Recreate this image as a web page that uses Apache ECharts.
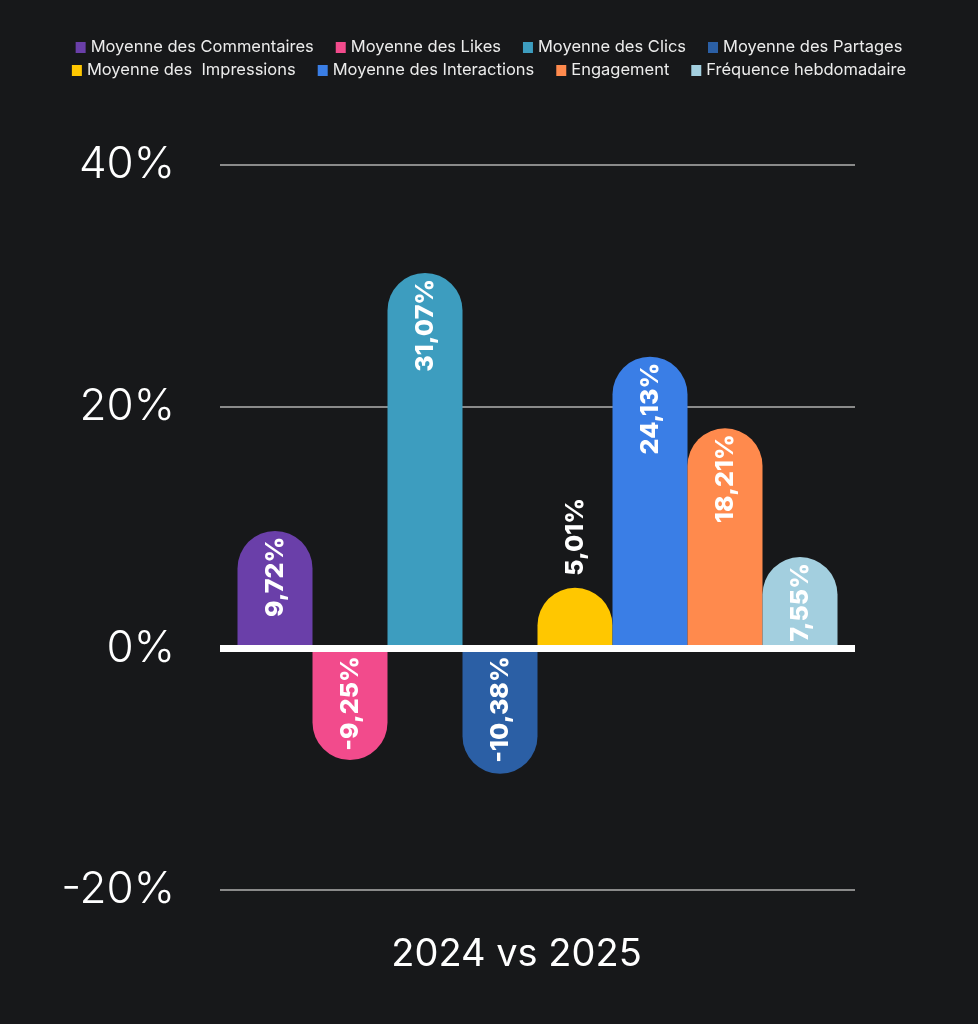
<!DOCTYPE html>
<html>
<head>
<meta charset="utf-8">
<script src="https://cdn.jsdelivr.net/npm/echarts@6/dist/echarts.min.js"></script>
<style>
  html, body { margin: 0; padding: 0; background: #17181a; }
  #chart { width: 978px; height: 1024px; }
</style>
</head>
<body>
<div id="chart"></div>
<script>
// données du graphique
var categories = ['2024 vs 2025'];
var seriesNames = [
    'Moyenne des Commentaires', 'Moyenne des Likes', 'Moyenne des Clics', 'Moyenne des Partages',
    'Moyenne des  Impressions', 'Moyenne des Interactions', 'Engagement', 'Fréquence hebdomadaire'
];
var seriesValues = [9.72, -9.25, 31.07, -10.38, 5.01, 24.13, 18.21, 7.55];
var seriesColors = ['#6a3fa9', '#f24b8c', '#3d9dbf', '#2b5fa5', '#ffc700', '#3a7ee6', '#ff8a4d', '#a3cfdf'];
var yTicks = [-20, 0, 20, 40];

var chart = echarts.init(document.getElementById('chart'));

function fmt(v) {
    return v.toFixed(2).replace('.', ',') + '%';
}

var series = seriesNames.map(function (name, i) {
    var v = seriesValues[i];
    var neg = v < 0;
    var small = v > 0 && v < 6;
    var label = {
        show: true,
        rotate: 90,
        color: '#fff',
        fontFamily: 'Inter',
        fontWeight: 800,
        fontSize: 25,
        verticalAlign: 'middle',
        formatter: function (p) { return fmt(p.value); }
    };
    if (small) {
        label.position = 'top';
        label.align = 'left';
        label.distance = 12;
    } else if (neg) {
        label.position = 'insideTop';
        label.align = 'right';
        label.distance = 8;
    } else {
        label.position = 'insideTop';
        label.align = 'right';
        label.distance = 6;
    }
    var s = {
        name: name,
        type: 'bar',
        barWidth: 75,
        barGap: '0%',
        itemStyle: {
            color: seriesColors[i],
            borderRadius: neg ? [0, 0, 38, 38] : [38, 38, 0, 0]
        },
        label: label,
        data: [v]
    };
    if (i === 0) {
        // ligne du zéro
        s.markLine = {
            silent: true,
            symbol: 'none',
            label: { show: false },
            lineStyle: { color: '#ffffff', width: 7, type: 'solid' },
            data: [{ yAxis: 0 }]
        };
    }
    return s;
});

var legendText = { color: '#ececec', fontSize: 16.5, fontFamily: 'Inter' };

chart.setOption({
    backgroundColor: '#17181a',
    animation: false,
    legend: [
        {
            data: seriesNames.slice(0, 4),
            top: 34,
            left: 'center',
            icon: 'rect',
            itemWidth: 10,
            itemHeight: 11,
            itemGap: 22,
            textStyle: legendText
        },
        {
            data: seriesNames.slice(4),
            top: 57,
            left: 'center',
            icon: 'rect',
            itemWidth: 10,
            itemHeight: 11,
            itemGap: 22,
            textStyle: legendText
        }
    ],
    grid: { left: 220, right: 123, top: 165, bottom: 134 },
    xAxis: {
        type: 'category',
        data: categories,
        position: 'bottom',
        axisLine: { show: false, onZero: false },
        axisTick: { show: false },
        axisLabel: {
            color: '#ffffff',
            fontFamily: 'Inter',
            fontSize: 38,
            margin: 46,
            padding: [0, 42, 0, 0]
        }
    },
    yAxis: {
        type: 'value',
        min: yTicks[0],
        max: yTicks[yTicks.length - 1],
        interval: 20,
        axisLine: { show: false },
        axisTick: { show: false },
        axisLabel: {
            color: '#ffffff',
            fontFamily: 'Inter',
            fontWeight: 300,
            fontSize: 44,
            margin: 45,
            formatter: '{value}%'
        },
        splitLine: { lineStyle: { color: '#8a8a8a', width: 2 } }
    },
    series: series
});
</script>
</body>
</html>
